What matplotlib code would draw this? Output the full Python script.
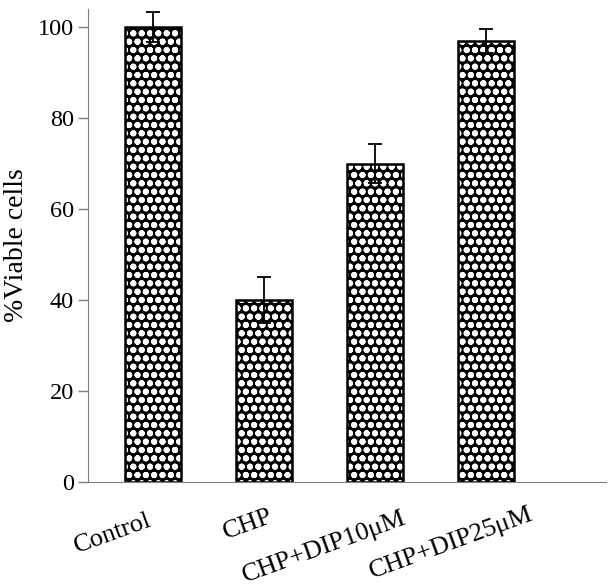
import matplotlib.pyplot as plt
import matplotlib.transforms as mtransforms
import numpy as np

plt.rcParams['font.family'] = ['Liberation Serif', 'DejaVu Serif']
plt.rcParams['hatch.linewidth'] = 2.0

groups = ["Control", "CHP", "CHP+DIP10\u03bcM", "CHP+DIP25\u03bcM"]
viable = [100, 40, 70, 97]
err = [3.3, 5.0, 4.3, 2.6]

fig = plt.figure(figsize=(6.09, 5.88), dpi=100)
ax = fig.add_axes([0.145, 0.18, 0.85, 0.805])

x = np.arange(len(groups))
# patterned fill: white rings on black
ax.bar(x, viable, width=0.5, color="black", edgecolor="white",
       hatch="oo", linewidth=0)
ax.bar(x, viable, width=0.5, fill=False, edgecolor="black", linewidth=1.8)
ax.errorbar(x, viable, yerr=err, fmt="none", ecolor="black",
            elinewidth=1.3, capsize=5, capthick=1.3)

ax.set_xlim(-0.58, 4.08)
ax.set_ylim(0, 104)
ax.set_yticks([0, 20, 40, 60, 80, 100])
ax.set_ylabel("%Viable cells", fontsize=20, labelpad=6)
ax.tick_params(axis="y", labelsize=17.5, length=7, color="gray", width=1)
ax.tick_params(axis="x", length=0, labelsize=19)
ax.set_xticks(x)
labels = ax.set_xticklabels(groups, rotation=20, ha="center", va="center",
                            rotation_mode="anchor")
# staggered label placement (pixel offsets from tick)
offsets = [(-40, -47), (-16, -38), (-51, -60), (-35, -56)]
for lab, (dx, dy) in zip(labels, offsets):
    lab.set_transform(lab.get_transform() +
                      mtransforms.ScaledTranslation(dx / 100, dy / 100, fig.dpi_scale_trans))

for s in ["top", "right"]:
    ax.spines[s].set_visible(False)
for s in ["left", "bottom"]:
    ax.spines[s].set_color("gray")

fig.savefig("out.png", dpi=100)
